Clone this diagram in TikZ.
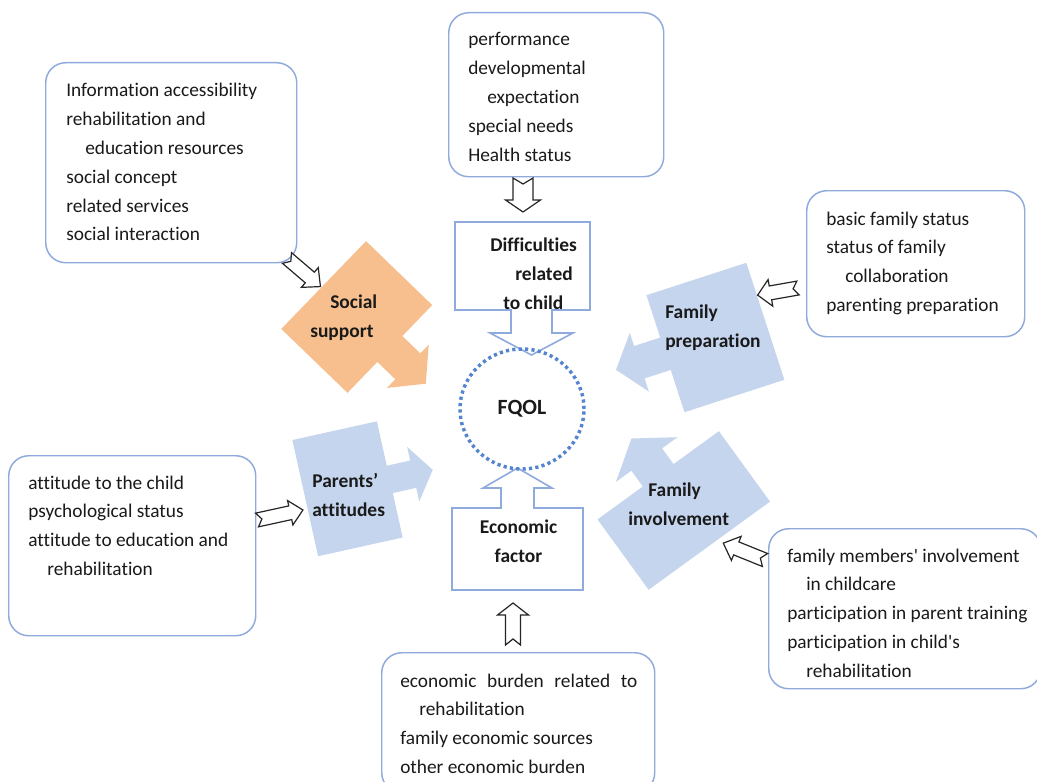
\documentclass[tikz,border=0pt]{standalone}
\usepackage{fontspec}
\setmainfont{Carlito}[Ligatures={TeX,NoCommon}]
\usetikzlibrary{shapes.geometric}

\definecolor{boxblue}{HTML}{8FAADC}
\definecolor{paleblue}{HTML}{C5D5EE}
\definecolor{paleorange}{HTML}{F7BF8E}
\definecolor{dotblue}{HTML}{5585CF}
\definecolor{ink}{HTML}{1A1A1A}

\newcommand\listfont{\fontsize{14.5}{21.6}\selectfont}
\newcommand\labelfont{\bfseries\fontsize{14.6}{21.75}\selectfont}
\newcommand\centrefont{\bfseries\fontsize{16.3}{20}\selectfont}
\newcommand\rows[1]{\begin{tabular}[t]{@{}l@{}}#1\end{tabular}}
\newcommand\crows[1]{\begin{tabular}[t]{@{}c@{}}#1\end{tabular}}
\newcommand\ind{\hspace*{14.25pt}}
\newcommand\lbind{\hspace*{15pt}}

% rectangle (half sizes #1, #2) with an arrow leaving its +x side:
% stem half width #3, stem length #4, head half width #5, head length #6
\newcommand\calloutarrow[6]{(-#1,-#2) -- (#1,-#2) -- (#1,-#3) -- ({#1+#4},-#3)
  -- ({#1+#4},-#5) -- ({#1+#4+#6},0) -- ({#1+#4},#5) -- ({#1+#4},#3)
  -- (#1,#3) -- (#1,#2) -- (-#1,#2) -- cycle}

% notched block arrow from the origin along +x:
% length #1, stem half width #2, head half width #3, head length #4, notch depth #5
\newcommand\notcharrow[5]{(0,-#2) -- ({#1-#4},-#2) -- ({#1-#4},-#3) -- (#1,0)
  -- ({#1-#4},#3) -- ({#1-#4},#2) -- (0,#2) -- (#5,0) -- cycle}

\begin{document}
\begin{tikzpicture}[x=0.75pt,y=-0.75pt,
  infobox/.style={draw=boxblue, line width=1.1pt, rounded corners=15pt,
    fill=white, inner sep=0pt, anchor=north west},
  listtext/.style={anchor=base west, inner sep=0pt, font=\listfont, text=ink},
  labeltext/.style={anchor=base west, inner sep=0pt, font=\labelfont, text=ink},
  blockarrow/.style={draw=boxblue, line width=1.2pt, fill=white, line join=miter},
  hollow/.style={draw=black!85, line width=0.9pt, fill=white, line join=miter},
  bluecallout/.style={fill=paleblue},
  orangecallout/.style={fill=paleorange}]

\useasboundingbox (0,0) rectangle (1037,781);
\fill[white] (0,0) rectangle (1037,781);

% ---- factor callouts around the centre ----
\fill[orangecallout, shift={(356.75,317)}, rotate=-44]
  \calloutarrow{46}{61}{18}{25}{30}{25};
\fill[bluecallout, shift={(715.4,337.5)}, rotate=198]
  \calloutarrow{52.5}{61.5}{17}{27.5}{30.8}{24.5};
\fill[bluecallout, shift={(683.75,510.5)}, rotate=126]
  \calloutarrow{43.5}{75}{19}{19.5}{38}{26};
\fill[bluecallout, shift={(347.5,488.75)}, rotate=12.5]
  \calloutarrow{43.3}{59.5}{14}{24}{28}{20};

% ---- outlined block arrows above and below the centre ----
\draw[blockarrow] (455,222) -- (590,222) -- (590,310) -- (552,310) -- (552,333)
  -- (573,333) -- (531.5,355) -- (490,333) -- (511,333) -- (511,310)
  -- (455,310) -- cycle;
\draw[blockarrow] (452,590) -- (452,508) -- (501,508) -- (501,488) -- (483,488)
  -- (517.5,468) -- (552,488) -- (534,488) -- (534,508) -- (583,508)
  -- (583,590) -- cycle;

% ---- centre ----
\node[ellipse, draw=dotblue, line width=2.6pt, dash pattern=on 2.4pt off 2.4pt,
  minimum width=93pt, minimum height=90pt, inner sep=0pt] (fqol) at (522,409) {};
\node[font=\centrefont, text=ink, inner sep=0pt, anchor=base] (fqoltext)
  at (522,414) {FQOL};

% ---- labels of the factors ----
\node[labeltext] (diff) at (490,251)
  {\rows{Difficulties\\\hspace*{18.75pt}related\\\hspace*{9.75pt}to child}};
\node[labeltext, anchor=base] (econ) at (518.5,533) {\crows{Economic\\factor}};
\node[labeltext] (social) at (310,308) {\rows{\lbind Social\\support}};
\node[labeltext] (prep) at (665,318) {\rows{Family\\preparation}};
\node[labeltext] (involve) at (628,496) {\rows{\lbind Family\\involvement}};
\node[labeltext] (attitude) at (312,487) {\rows{Parents’\\attitudes}};

% ---- item boxes ----
\node[infobox, minimum width=188.25pt, minimum height=150pt] (socialbox) at (45,62) {};
\node[infobox, minimum width=161.25pt, minimum height=123pt] (childbox) at (448,12) {};
\node[infobox, minimum width=163.5pt, minimum height=109.5pt] (prepbox) at (806,190) {};
\node[infobox, minimum width=185.25pt, minimum height=135pt] (attbox) at (8,455) {};
\node[infobox, minimum width=204pt, minimum height=120pt] (invbox) at (768,528) {};
\node[infobox, minimum width=204.75pt, minimum height=105pt] (econbox) at (381,652) {};

\node[listtext] (socialitems) at (66,97) {\rows{Information accessibility\\
  rehabilitation and\\\ind education resources\\social concept\\
  related services\\social interaction}};
\node[listtext] (childitems) at (468,46) {\rows{performance\\developmental\\
  \ind expectation\\special needs\\Health status}};
\node[listtext] (prepitems) at (826,225) {\rows{basic family status\\
  status of family\\\ind collaboration\\parenting preparation}};
\node[listtext] (attitems) at (28,489) {\rows{attitude to the child\\
  psychological status\\attitude to education and\\\ind rehabilitation}};
\node[listtext] (invitems) at (787,562) {\rows{family members\textquotesingle\ involvement\\
  \ind in childcare\\participation in parent training\\
  participation in child\textquotesingle s\\\ind rehabilitation}};
\node[listtext] (econitems) at (400,687) {\rows{\makebox[177.75pt][s]{economic burden related to}\\
  \ind rehabilitation\\family economic sources\\other economic burden}};

% ---- hollow arrows from the item boxes ----
\draw[hollow, shift={(523,178)}, rotate=-90] \notcharrow{34}{10}{17.5}{12}{6};
\draw[hollow, shift={(513,645)}, rotate=90] \notcharrow{42}{7.5}{15.5}{12}{6};
\draw[hollow, shift={(287,258)}, rotate=-40.5] \notcharrow{44}{7}{13}{14}{5};
\draw[hollow, shift={(798,288)}, rotate=190] \notcharrow{41}{7}{13.5}{13}{5};
\draw[hollow, shift={(765,560)}, rotate=158] \notcharrow{45}{7}{13}{14}{5};
\draw[hollow, shift={(257,520)}, rotate=12.3] \notcharrow{47}{7}{12.5}{13}{5};

\end{tikzpicture}
\end{document}
